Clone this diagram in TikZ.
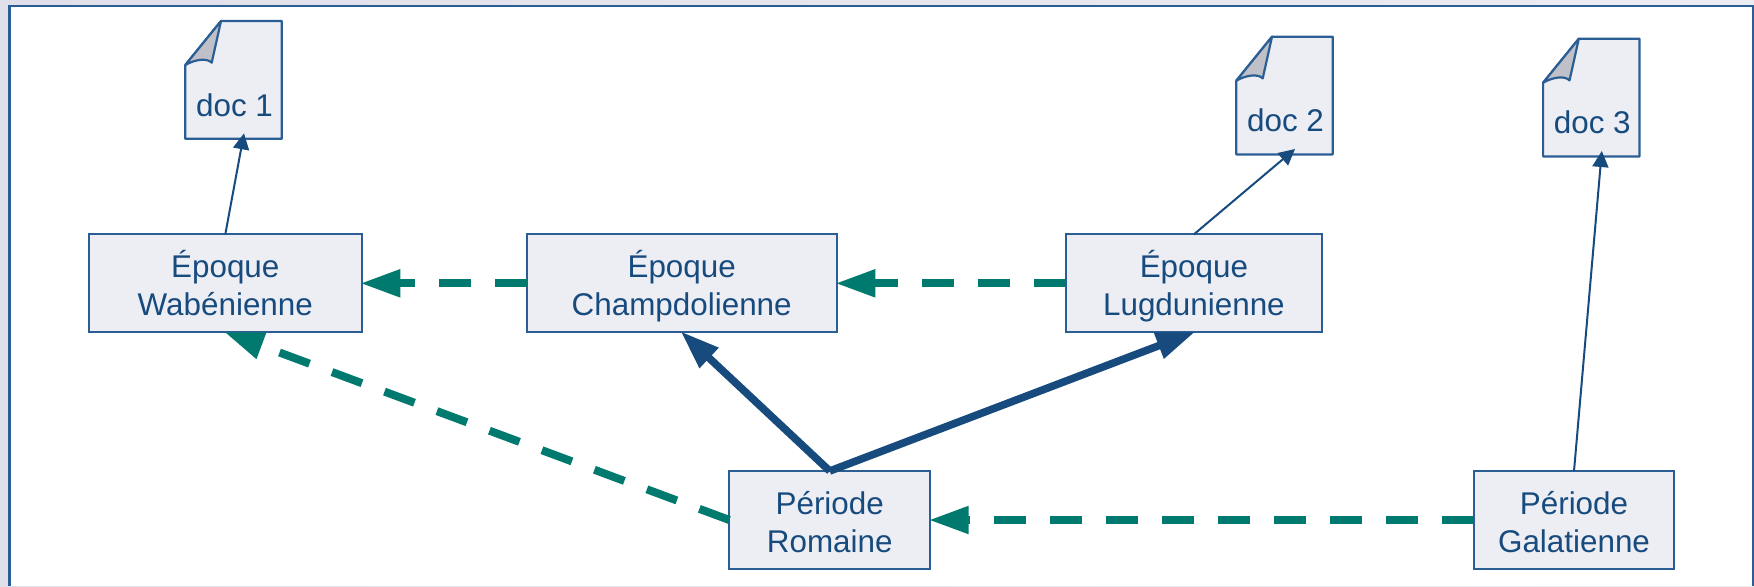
\documentclass[tikz,border=0pt]{standalone}
\usepackage{fontspec}
\setmainfont{Liberation Sans}
\usetikzlibrary{arrows.meta}
\definecolor{inkblue}{HTML}{174B7E}
\definecolor{framecol}{HTML}{2B5E94}
\definecolor{boxfill}{HTML}{EDEDF4}
\definecolor{foldgray}{HTML}{C0C0C8}
\definecolor{teal}{HTML}{007A6E}
\definecolor{bgleft}{HTML}{E0E0EA}
\definecolor{bgright}{HTML}{ECECF3}
\tikzset{
    period/.style={draw=framecol, fill=boxfill, line width=1.1pt, text=inkblue, align=center,
        font=\fontsize{15.7}{19}\selectfont, inner sep=0pt, outer sep=0pt,
        minimum height=49pt, text height=40.5pt, text depth=8.5pt},
    doclabel/.style={text=inkblue, font=\fontsize{15.7}{19}\selectfont, inner sep=0pt, anchor=base},
    docline/.style={draw=framecol, line width=1.1pt, line join=round},
    docref/.style={draw=inkblue, line width=1pt, -{Triangle[length=8pt,width=8pt]}},
    contains/.style={draw=inkblue, line width=3.8pt, shorten >=-0.7pt, -{Triangle[length=19.5pt,width=13pt]}},
    follows/.style={draw=teal, line width=4pt, dash pattern=on 16pt off 12pt, shorten >=-0.7pt,
        -{Triangle[length=20pt,width=13pt]}}
}
\begin{document}
\begin{tikzpicture}[x=0.5pt, y=-0.5pt]
    \useasboundingbox (0,0) rectangle (1754,586);
    \shade[left color=bgleft, right color=bgright] (0,0) rectangle (1754,586);
    \fill[white] (9.5,6) rectangle (1753,586);
    \draw[framecol, line width=1.2pt] (9.5,586) -- (9.5,6) -- (1753,6) -- (1753,586);

    % documents
    \foreach \docname/\docx/\docy/\doctxt in {docA/233.5/116/doc 1, docB/1284.5/131.7/doc 2, docC/1591.3/133.7/doc 3} {
        \path[docline, fill=boxfill] (\docx-48.2,\docy+22.7) -- (\docx+48.2,\docy+22.7)
            -- (\docx+48.2,\docy-95) -- (\docx-12.5,\docy-95) -- (\docx-48.2,\docy-51)
            -- cycle;
        \path[docline, fill=foldgray] (\docx-48.2,\docy-51) -- (\docx-12.5,\docy-95)
            -- (\docx-21.8,\docy-53.3)
            .. controls (\docx-26,\docy-58) and (\docx-38,\docy-57) .. (\docx-48.2,\docy-51);
        \node[doclabel] (\docname) at (\docx+1,\docy) {\doctxt};
        \coordinate (\docname tip) at (\docx+10.5,\docy+17.3);
    }

    % periods
    \node[period, minimum width=136.35pt] (wabenienne) at (225.3,283.3) {Époque\\Wabénienne};
    \node[period, minimum width=155pt] (champdolienne) at (681.7,283.3) {Époque\\Champdolienne};
    \node[period, minimum width=128pt] (lugdunienne) at (1193.9,283.3) {Époque\\Lugdunienne};
    \node[period, minimum width=100.35pt] (romaine) at (829.7,520) {Période\\Romaine};
    \node[period, minimum width=100.3pt] (galatienne) at (1574,520) {Période\\Galatienne};

    \draw[docref] (wabenienne.north) -- (docAtip);
    \draw[docref] (lugdunienne.north) -- (docBtip);
    \draw[docref] (galatienne.north) -- (docCtip);

    \draw[contains] (romaine.north) -- (champdolienne.south);
    \draw[contains] (romaine.north) -- (lugdunienne.south);

    \draw[follows] (champdolienne.west) -- (wabenienne.east);
    \draw[follows] (lugdunienne.west) -- (champdolienne.east);
    \draw[follows] (romaine.west) -- (wabenienne.south);
    \draw[follows] (galatienne.west) -- (romaine.east);
\end{tikzpicture}
\end{document}
